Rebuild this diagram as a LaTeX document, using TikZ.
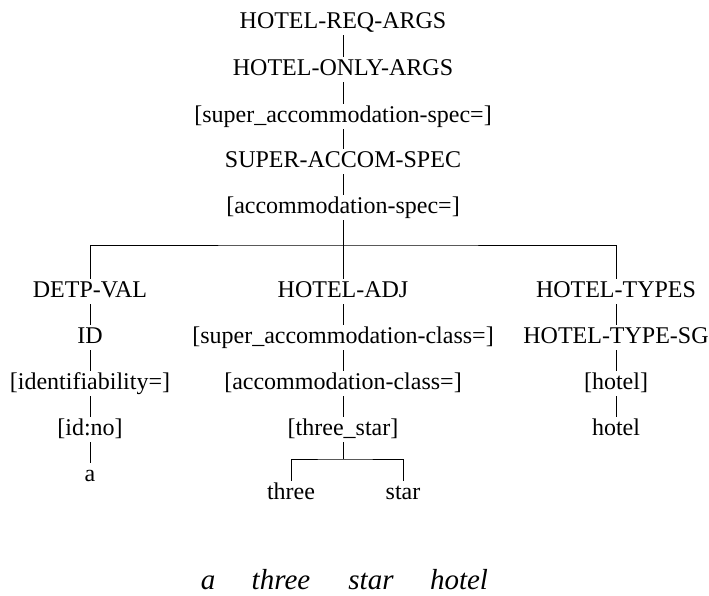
\documentclass[tikz,border=0pt]{standalone}
\usepackage{fontspec}
\setmainfont{Liberation Serif}
\usetikzlibrary{positioning}

\begin{document}
\begin{tikzpicture}[x=1pt, y=-1pt,
  lbl/.style={font=\fontsize{24}{29}\selectfont, inner sep=2pt, anchor=base, text height=16pt, text depth=5pt},
  wrd/.style={font=\fontsize{29}{34}\selectfont\itshape, inner sep=0pt, anchor=base},
  edge/.style={draw, line width=0.9pt}]
\useasboundingbox (0,0) rectangle (709,595);
% spine
\node[lbl] (req)     at (343,28)  {HOTEL-REQ-ARGS};
\node[lbl] (only)    at (343,75)  {HOTEL-ONLY-ARGS};
\node[lbl] (supspec) at (343,122) {[super\_accommodation-spec=]};
\node[lbl] (supacc)  at (343,167) {SUPER-ACCOM-SPEC};
\node[lbl] (accspec) at (343,213) {[accommodation-spec=]};
\coordinate (fork) at (343,245);
% left branch
\node[lbl] (detp)  at (90,297)  {DETP-VAL};
\node[lbl] (id)    at (90,343)  {ID};
\node[lbl] (ident) at (90,389)  {[identifiability=]};
\node[lbl] (idno)  at (90,435)  {[id:no]};
\node[lbl] (a)     at (90,481)  {a};
% middle branch
\node[lbl] (adj)      at (343,297) {HOTEL-ADJ};
\node[lbl] (supclass) at (343,343) {[super\_accommodation-class=]};
\node[lbl] (accclass) at (343,389) {[accommodation-class=]};
\node[lbl] (tstar)    at (343,435) {[three\_star]};
\coordinate (split) at (343,459);
\node[lbl] (three) at (291,499) {three};
\node[lbl] (star)  at (403,499) {star};
% right branch
\node[lbl] (types)  at (616,297) {HOTEL-TYPES};
\node[lbl] (typesg) at (616,343) {HOTEL-TYPE-SG};
\node[lbl] (hotelf) at (616,389) {[hotel]};
\node[lbl] (hotel)  at (616,435) {hotel};
% edges
\foreach \p/\c in {req/only, only/supspec, supspec/supacc, supacc/accspec,
                   detp/id, id/ident, ident/idno, idno/a,
                   adj/supclass, supclass/accclass, accclass/tstar,
                   types/typesg, typesg/hotelf, hotelf/hotel}
  \path[edge] (\p.south) -- (\c.north);
\path[edge] (accspec.south) -- (adj.north);
\path[edge] (detp.north) |- (fork) -| (types.north);
\path[edge] (tstar.south) -- (split);
\path[edge] (three.north) |- (split) -| (star.north);
% sentence
\node[wrd] (w1) at (208,589) {a};
\node[wrd] (w2) at (281,589) {three};
\node[wrd] (w3) at (371,589) {star};
\node[wrd] (w4) at (459,589) {hotel};
\end{tikzpicture}
\end{document}
